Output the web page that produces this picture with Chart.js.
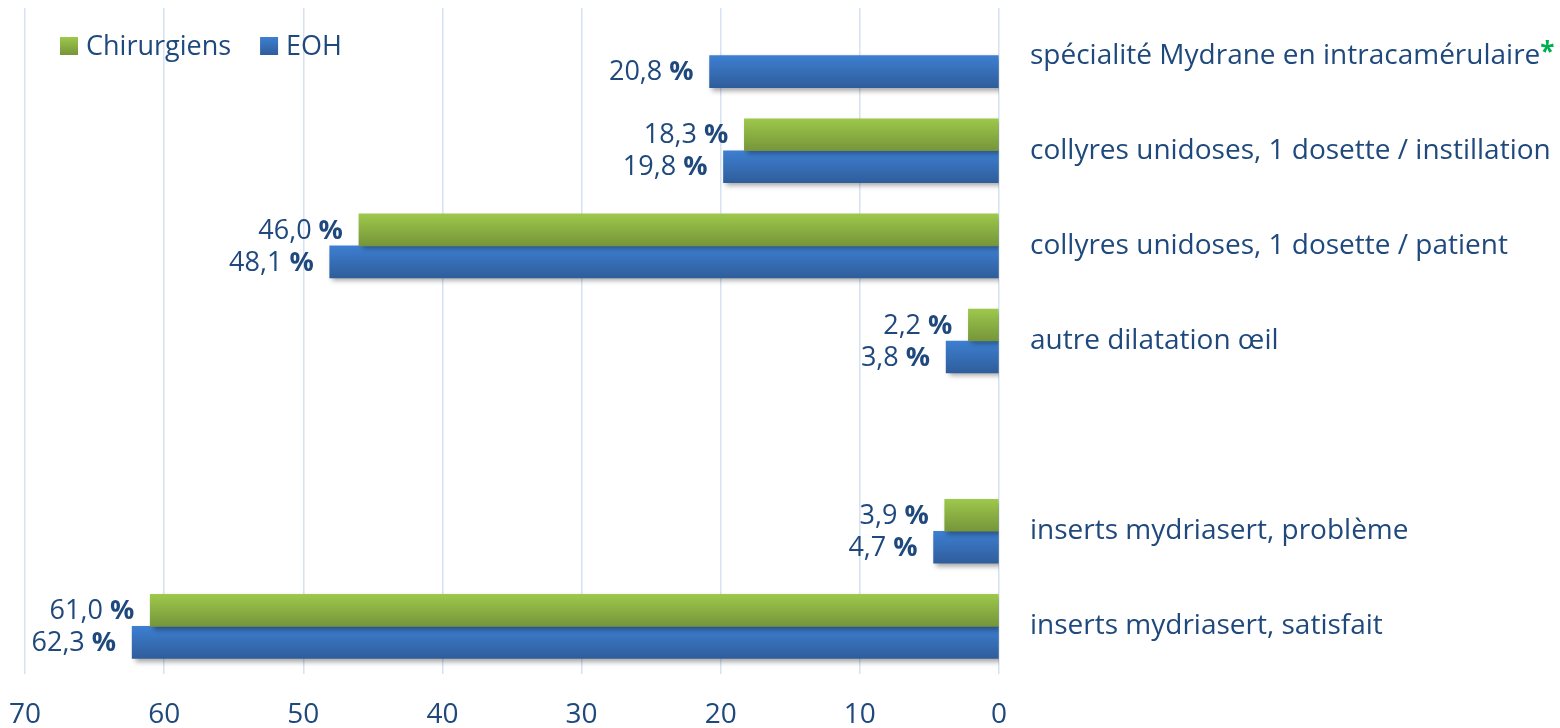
<!DOCTYPE html>
<html>
<head>
<meta charset="utf-8">
<script src="https://cdn.jsdelivr.net/npm/chart.js@4.4.1/dist/chart.umd.min.js"></script>
<style>
    html, body { margin: 0; padding: 0; background: #fff; }
    #wrap { width: 1560px; height: 728px; position: relative; }
</style>
</head>
<body>
<div id="wrap"><canvas id="chart"></canvas></div>
<script>
// Categories, top to bottom (index 4 is an empty row)
const categories = [
    'spécialité Mydrane en intracamérulaire',
    'collyres unidoses, 1 dosette / instillation',
    'collyres unidoses, 1 dosette / patient',
    'autre dilatation œil',
    '',
    'inserts mydriasert, problème',
    'inserts mydriasert, satisfait'
];
const chirurgiens = [null, 18.3, 46.0, 2.2, null, 3.9, 61.0];
const eoh = [20.8, 19.8, 48.1, 3.8, null, 4.7, 62.3];
const xTicks = [0, 10, 20, 30, 40, 50, 60, 70];

const textColor = '#1F497D';
const fontFamily = "'Open Sans', sans-serif";
const labelSize = 27;
const categorySize = 28;
const barSize = 32;

// Vertical gradient for each bar, computed from the category scale
function barGradient(top, bottom, mid) {
    return function(ctx) {
        const chart = ctx.chart;
        if (ctx.type !== 'data' || !chart.chartArea) return mid;
        const yScale = chart.scales.y;
        const c = yScale.getPixelForValue(ctx.dataIndex) + (ctx.datasetIndex === 0 ? -barSize / 2 : barSize / 2);
        const g = chart.ctx.createLinearGradient(0, c - barSize / 2, 0, c + barSize / 2);
        g.addColorStop(0, top);
        g.addColorStop(1, bottom);
        return g;
    };
}

const legendColors = [['#9DC84B', '#76953A'], ['#3D7FD1', '#2F5D9B']];

const barShadow = {
    id: 'barShadow',
    beforeDatasetsDraw(chart) {
        const c = chart.ctx;
        c.save();
        c.shadowColor = 'rgba(0, 0, 0, 0.35)';
        c.shadowBlur = 5;
        c.shadowOffsetX = 3;
        c.shadowOffsetY = 3;
    },
    afterDatasetsDraw(chart) {
        chart.ctx.restore();
    }
};

// "20,8 %" labels to the left of each bar, with a bold percent sign
const valueLabels = {
    id: 'valueLabels',
    afterDatasetsDraw(chart) {
        const c = chart.ctx;
        const regular = labelSize + 'px ' + fontFamily;
        const bold = 'bold ' + labelSize + 'px ' + fontFamily;
        chart.data.datasets.forEach((ds, di) => {
            const meta = chart.getDatasetMeta(di);
            meta.data.forEach((bar, i) => {
                const v = ds.data[i];
                if (v === null || v === undefined) return;
                const num = v.toFixed(1).replace('.', ',') + ' ';
                c.save();
                c.fillStyle = textColor;
                c.textBaseline = 'middle';
                c.textAlign = 'left';
                c.font = bold;
                const wp = c.measureText('%').width;
                c.font = regular;
                const wn = c.measureText(num).width;
                const right = bar.x - 16;
                c.fillText(num, right - wp - wn, bar.y + 1);
                c.font = bold;
                c.fillText('%', right - wp, bar.y + 1);
                c.restore();
            });
        });
    }
};

// Legend drawn inside the plot, top-left
const topLegend = {
    id: 'topLegend',
    afterDraw(chart) {
        const c = chart.ctx;
        c.save();
        c.font = labelSize + 'px ' + fontFamily;
        c.textBaseline = 'middle';
        let x = 60;
        const y = 37;
        chart.data.datasets.forEach((ds, i) => {
            const g = c.createLinearGradient(0, y, 0, y + 18);
            g.addColorStop(0, legendColors[i][0]);
            g.addColorStop(1, legendColors[i][1]);
            c.fillStyle = g;
            c.fillRect(x, y, 18, 18);
            c.fillStyle = textColor;
            c.fillText(ds.label, x + 26, y + 10);
            x += 26 + c.measureText(ds.label).width + 29;
        });
        c.restore();
    }
};

// Green asterisk after the first category label
const asterisk = {
    id: 'asterisk',
    afterDraw(chart) {
        const c = chart.ctx;
        const y = chart.scales.y;
        c.save();
        c.font = categorySize + 'px ' + fontFamily;
        const w = c.measureText(categories[0]).width;
        c.font = 'bold 26px ' + fontFamily;
        c.fillStyle = '#00B050';
        c.textBaseline = 'middle';
        c.fillText('*', y.left + 31 + w, y.getPixelForValue(0) - 2);
        c.restore();
    }
};

new Chart(document.getElementById('chart'), {
    type: 'bar',
    data: {
        labels: categories,
        datasets: [{
            label: 'Chirurgiens',
            data: chirurgiens,
            backgroundColor: barGradient('#9DC84B', '#76953A', '#8AB043'),
            barThickness: barSize
        }, {
            label: 'EOH',
            data: eoh,
            backgroundColor: barGradient('#3D7FD1', '#2F5D9B', '#3670B8'),
            barThickness: barSize
        }]
    },
    options: {
        indexAxis: 'y',
        responsive: true,
        maintainAspectRatio: false,
        animation: false,
        layout: { padding: { top: 8, left: 25, right: 0, bottom: 0 } },
        plugins: {
            tooltip: { enabled: false },
            legend: { display: false }
        },
        scales: {
            x: {
                reverse: true,
                min: 0,
                max: 70,
                afterBuildTicks(scale) {
                    scale.ticks = xTicks.map(v => ({ value: v }));
                },
                afterFit(scale) { scale.height = 54; },
                grid: { color: '#D5E2F2', lineWidth: 1.5, drawTicks: false },
                border: { display: false },
                ticks: {
                    color: textColor,
                    font: { family: fontFamily, size: 28 },
                    padding: 24,
                    maxRotation: 0
                }
            },
            y: {
                position: 'right',
                afterFit(scale) {
                    scale.width = 561;
                    // tick padding would otherwise push the plot top down
                    scale.paddingTop = 0;
                    scale.paddingBottom = 0;
                },
                grid: { display: false, drawTicks: false },
                border: { display: false },
                ticks: {
                    color: textColor,
                    font: { family: fontFamily, size: categorySize },
                    padding: 31,
                    crossAlign: 'near',
                    autoSkip: false
                }
            }
        }
    },
    plugins: [barShadow, valueLabels, topLegend, asterisk]
});
</script>
</body>
</html>
